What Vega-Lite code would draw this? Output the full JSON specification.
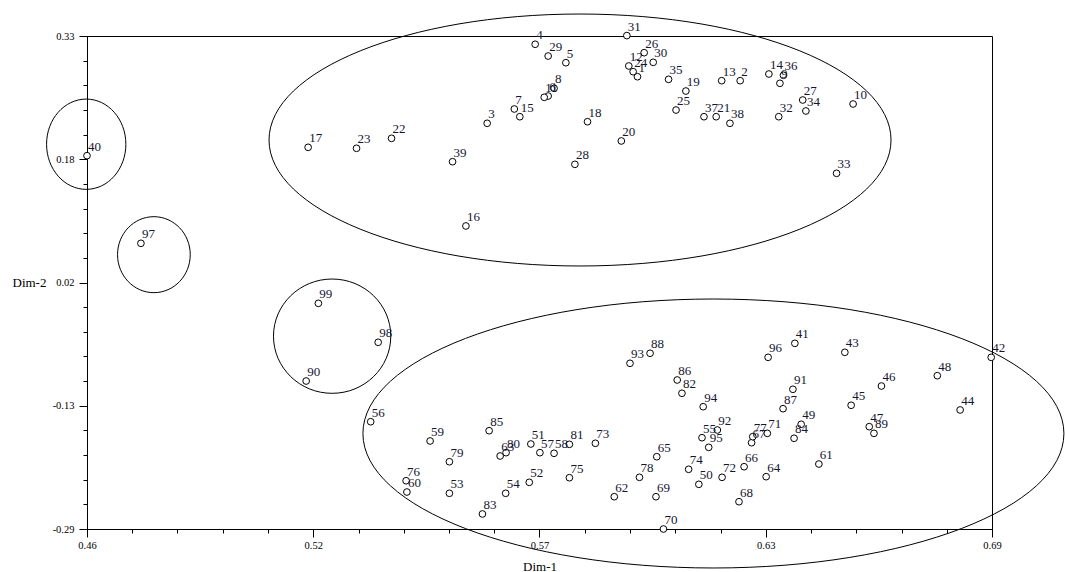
{
  "$schema": "https://vega.github.io/schema/vega-lite/v6.json",
  "width": 905,
  "height": 493,
  "autosize": "none",
  "padding": {"left": 87, "top": 36, "right": 73, "bottom": 43},
  "background": "white",
  "config": {
    "view": {"stroke": "black", "strokeWidth": 1},
    "axis": {"grid": false, "domainColor": "black", "tickColor": "black", "labelColor": "black", "titleColor": "black", "labelFont": "Liberation Serif", "titleFont": "Liberation Serif", "titleFontWeight": "normal", "labelFontSize": 10.5, "titleFontSize": 13, "tickWidth": 1, "domainWidth": 1}
  },
  "datasets": {
    "pts": [
      {"label": "1", "dim1": 0.5999, "dim2": 0.2788},
      {"label": "2", "dim1": 0.6260, "dim2": 0.2738},
      {"label": "3", "dim1": 0.5617, "dim2": 0.2202},
      {"label": "4", "dim1": 0.5739, "dim2": 0.3196},
      {"label": "5", "dim1": 0.5817, "dim2": 0.2964},
      {"label": "6", "dim1": 0.5772, "dim2": 0.2545},
      {"label": "7", "dim1": 0.5686, "dim2": 0.2382},
      {"label": "8", "dim1": 0.5787, "dim2": 0.2642},
      {"label": "9", "dim1": 0.6361, "dim2": 0.2705},
      {"label": "10", "dim1": 0.6547, "dim2": 0.2445},
      {"label": "11", "dim1": 0.5762, "dim2": 0.2529},
      {"label": "12", "dim1": 0.5977, "dim2": 0.2923},
      {"label": "13", "dim1": 0.6213, "dim2": 0.2738},
      {"label": "14", "dim1": 0.6333, "dim2": 0.2822},
      {"label": "15", "dim1": 0.5700, "dim2": 0.2285},
      {"label": "16", "dim1": 0.5563, "dim2": 0.0911},
      {"label": "17", "dim1": 0.5162, "dim2": 0.1900},
      {"label": "18", "dim1": 0.5872, "dim2": 0.2222},
      {"label": "19", "dim1": 0.6122, "dim2": 0.2608},
      {"label": "20", "dim1": 0.5958, "dim2": 0.1980},
      {"label": "21", "dim1": 0.6199, "dim2": 0.2285},
      {"label": "22", "dim1": 0.5374, "dim2": 0.2013},
      {"label": "23", "dim1": 0.5285, "dim2": 0.1888},
      {"label": "24", "dim1": 0.5988, "dim2": 0.2851},
      {"label": "25", "dim1": 0.6097, "dim2": 0.2369},
      {"label": "26", "dim1": 0.6016, "dim2": 0.3090},
      {"label": "27", "dim1": 0.6419, "dim2": 0.2495},
      {"label": "28", "dim1": 0.5840, "dim2": 0.1686},
      {"label": "29", "dim1": 0.5772, "dim2": 0.3048},
      {"label": "30", "dim1": 0.6039, "dim2": 0.2969},
      {"label": "31", "dim1": 0.5972, "dim2": 0.3305},
      {"label": "32", "dim1": 0.6358, "dim2": 0.2285},
      {"label": "33", "dim1": 0.6505, "dim2": 0.1573},
      {"label": "34", "dim1": 0.6427, "dim2": 0.2357},
      {"label": "35", "dim1": 0.6078, "dim2": 0.2755},
      {"label": "36", "dim1": 0.6370, "dim2": 0.2806},
      {"label": "37", "dim1": 0.6168, "dim2": 0.2285},
      {"label": "38", "dim1": 0.6234, "dim2": 0.2202},
      {"label": "39", "dim1": 0.5529, "dim2": 0.1719},
      {"label": "40", "dim1": 0.4600, "dim2": 0.1795},
      {"label": "41", "dim1": 0.6399, "dim2": -0.0565},
      {"label": "42", "dim1": 0.6898, "dim2": -0.0741},
      {"label": "43", "dim1": 0.6526, "dim2": -0.0678},
      {"label": "44", "dim1": 0.6819, "dim2": -0.1403},
      {"label": "45", "dim1": 0.6542, "dim2": -0.1344},
      {"label": "46", "dim1": 0.6619, "dim2": -0.1102},
      {"label": "47", "dim1": 0.6588, "dim2": -0.1613},
      {"label": "48", "dim1": 0.6761, "dim2": -0.0972},
      {"label": "49", "dim1": 0.6415, "dim2": -0.1583},
      {"label": "50", "dim1": 0.6155, "dim2": -0.2338},
      {"label": "51", "dim1": 0.5728, "dim2": -0.1831},
      {"label": "52", "dim1": 0.5724, "dim2": -0.2313},
      {"label": "53", "dim1": 0.5521, "dim2": -0.2451},
      {"label": "54", "dim1": 0.5664, "dim2": -0.2451},
      {"label": "55", "dim1": 0.6163, "dim2": -0.1752},
      {"label": "56", "dim1": 0.5321, "dim2": -0.1551},
      {"label": "57", "dim1": 0.5751, "dim2": -0.1940},
      {"label": "58", "dim1": 0.5787, "dim2": -0.1948},
      {"label": "59", "dim1": 0.5472, "dim2": -0.1793},
      {"label": "60", "dim1": 0.5413, "dim2": -0.2435},
      {"label": "61", "dim1": 0.6460, "dim2": -0.2083},
      {"label": "62", "dim1": 0.5940, "dim2": -0.2494},
      {"label": "63", "dim1": 0.5650, "dim2": -0.1982},
      {"label": "64", "dim1": 0.6326, "dim2": -0.2242},
      {"label": "65", "dim1": 0.6048, "dim2": -0.1991},
      {"label": "66", "dim1": 0.6270, "dim2": -0.2117},
      {"label": "67", "dim1": 0.6289, "dim2": -0.1815},
      {"label": "68", "dim1": 0.6257, "dim2": -0.2557},
      {"label": "69", "dim1": 0.6046, "dim2": -0.2494},
      {"label": "70", "dim1": 0.6065, "dim2": -0.2900},
      {"label": "71", "dim1": 0.6329, "dim2": -0.1697},
      {"label": "72", "dim1": 0.6214, "dim2": -0.2250},
      {"label": "73", "dim1": 0.5892, "dim2": -0.1822},
      {"label": "74", "dim1": 0.6129, "dim2": -0.2149},
      {"label": "75", "dim1": 0.5826, "dim2": -0.2255},
      {"label": "76", "dim1": 0.5411, "dim2": -0.2293},
      {"label": "77", "dim1": 0.6292, "dim2": -0.1739},
      {"label": "78", "dim1": 0.6004, "dim2": -0.2250},
      {"label": "79", "dim1": 0.5521, "dim2": -0.2054},
      {"label": "80", "dim1": 0.5665, "dim2": -0.1940},
      {"label": "81", "dim1": 0.5826, "dim2": -0.1835},
      {"label": "82", "dim1": 0.6112, "dim2": -0.1193},
      {"label": "83", "dim1": 0.5605, "dim2": -0.2711},
      {"label": "84", "dim1": 0.6397, "dim2": -0.1759},
      {"label": "85", "dim1": 0.5622, "dim2": -0.1664},
      {"label": "86", "dim1": 0.6100, "dim2": -0.1026},
      {"label": "87", "dim1": 0.6369, "dim2": -0.1387},
      {"label": "88", "dim1": 0.6031, "dim2": -0.0690},
      {"label": "89", "dim1": 0.6600, "dim2": -0.1697},
      {"label": "90", "dim1": 0.5157, "dim2": -0.1039},
      {"label": "91", "dim1": 0.6394, "dim2": -0.1143},
      {"label": "92", "dim1": 0.6202, "dim2": -0.1655},
      {"label": "93", "dim1": 0.5980, "dim2": -0.0816},
      {"label": "94", "dim1": 0.6166, "dim2": -0.1362},
      {"label": "95", "dim1": 0.6180, "dim2": -0.1873},
      {"label": "96", "dim1": 0.6331, "dim2": -0.0741},
      {"label": "97", "dim1": 0.4737, "dim2": 0.0693},
      {"label": "98", "dim1": 0.5340, "dim2": -0.0552},
      {"label": "99", "dim1": 0.5188, "dim2": -0.0062}
    ]
  },
  "resolve": {"axis": {"x": "independent", "y": "independent"}},
  "layer": [
    {
      "data": {"values": [{"group": "A", "dim1": 0.5853, "dim2": 0.1992}]},
      "mark": {"type": "point", "shape": "M -1 0 C -1 -0.2238 -0.5523 -0.4051 0 -0.4051 C 0.5523 -0.4051 1 -0.2238 1 0 C 1 0.2238 0.5523 0.4051 0 0.4051 C -0.5523 0.4051 -1 0.2238 -1 0 Z", "size": 386884, "filled": false, "stroke": "black", "strokeWidth": 1, "opacity": 1},
      "encoding": {
        "x": {"field": "dim1", "type": "quantitative", "axis": null, "scale": {"domain": [0.46, 0.69], "nice": false, "zero": false}},
        "y": {"field": "dim2", "type": "quantitative", "axis": null, "scale": {"domain": [-0.29, 0.33], "nice": false, "zero": false}}
      }
    },
    {
      "data": {"values": [{"group": "B", "dim1": 0.6192, "dim2": -0.1699}]},
      "mark": {"type": "point", "shape": "M -1 0 C -1 -0.2119 -0.5523 -0.3837 0 -0.3837 C 0.5523 -0.3837 1 -0.2119 1 0 C 1 0.2119 0.5523 0.3837 0 0.3837 C -0.5523 0.3837 -1 0.2119 -1 0 Z", "size": 491401, "filled": false, "stroke": "black", "strokeWidth": 1, "opacity": 1},
      "encoding": {
        "x": {"field": "dim1", "type": "quantitative", "axis": null},
        "y": {"field": "dim2", "type": "quantitative", "axis": null}
      }
    },
    {
      "data": {"values": [{"group": "C", "dim1": 0.4598, "dim2": 0.1939}]},
      "mark": {"type": "point", "shape": "M -1 0 C -1 -0.6289 -0.5523 -1.1387 0 -1.1387 C 0.5523 -1.1387 1 -0.6289 1 0 C 1 0.6289 0.5523 1.1387 0 1.1387 C -0.5523 1.1387 -1 0.6289 -1 0 Z", "size": 6288, "filled": false, "stroke": "black", "strokeWidth": 1, "opacity": 1},
      "encoding": {
        "x": {"field": "dim1", "type": "quantitative", "axis": null},
        "y": {"field": "dim2", "type": "quantitative", "axis": null}
      }
    },
    {
      "data": {"values": [{"group": "D", "dim1": 0.4770, "dim2": 0.0550}]},
      "mark": {"type": "point", "shape": "M -1 0 C -1 -0.5774 -0.5523 -1.0454 0 -1.0454 C 0.5523 -1.0454 1 -0.5774 1 0 C 1 0.5774 0.5523 1.0454 0 1.0454 C -0.5523 1.0454 -1 0.5774 -1 0 Z", "size": 5285, "filled": false, "stroke": "black", "strokeWidth": 1, "opacity": 1},
      "encoding": {
        "x": {"field": "dim1", "type": "quantitative", "axis": null},
        "y": {"field": "dim2", "type": "quantitative", "axis": null}
      }
    },
    {
      "data": {"values": [{"group": "E", "dim1": 0.5223, "dim2": -0.0475}]},
      "mark": {"type": "point", "shape": "M -1 0 C -1 -0.5382 -0.5523 -0.9744 0 -0.9744 C 0.5523 -0.9744 1 -0.5382 1 0 C 1 0.5382 0.5523 0.9744 0 0.9744 C -0.5523 0.9744 -1 0.5382 -1 0 Z", "size": 13759, "filled": false, "stroke": "black", "strokeWidth": 1, "opacity": 1},
      "encoding": {
        "x": {"field": "dim1", "type": "quantitative", "axis": null},
        "y": {"field": "dim2", "type": "quantitative", "axis": null}
      }
    },
    {
      "data": {"name": "pts"},
      "mark": {"type": "point", "shape": "circle", "size": 45, "filled": true, "fill": "white", "stroke": "black", "strokeWidth": 1, "opacity": 1},
      "encoding": {
        "x": {"field": "dim1", "type": "quantitative", "title": "Dim-1",
          "axis": {"orient": "bottom", "values": [0.46, 0.5175, 0.575, 0.6325, 0.69], "labelExpr": "datum.value < 0.5 ? '0.46' : datum.value < 0.55 ? '0.52' : datum.value < 0.6 ? '0.57' : datum.value < 0.66 ? '0.63' : '0.69'", "tickSize": 8, "labelPadding": 3, "labelFlush": false, "labelOverlap": false, "titleBaseline": "middle", "titleY": 37}},
        "y": {"field": "dim2", "type": "quantitative", "title": "Dim-2",
          "axis": {"orient": "left", "values": [0.33, 0.175, 0.02, -0.135, -0.29], "labelExpr": "datum.value > 0.3 ? '0.33' : datum.value > 0.1 ? '0.18' : datum.value > -0.05 ? '0.02' : datum.value > -0.2 ? '-0.13' : '-0.29'", "tickSize": 8, "labelPadding": 5, "labelFlush": false, "labelOverlap": false, "titleAngle": 0, "titleAlign": "left", "titleBaseline": "middle", "titleX": -75, "titleY": 246.5}}
      }
    },
    {
      "data": {"name": "pts"},
      "mark": {"type": "text", "align": "left", "baseline": "alphabetic", "dx": 1, "dy": -5, "font": "Liberation Serif", "fontSize": 13, "color": "#151530"},
      "encoding": {
        "x": {"field": "dim1", "type": "quantitative",
          "axis": {"orient": "bottom", "values": [0.46, 0.4715, 0.483, 0.4945, 0.506, 0.5175, 0.529, 0.5405, 0.552, 0.5635, 0.575, 0.5865, 0.598, 0.6095, 0.621, 0.6325, 0.644, 0.6555, 0.667, 0.6785, 0.69], "labels": false, "domain": false, "tickSize": 4, "title": null}},
        "y": {"field": "dim2", "type": "quantitative",
          "axis": {"orient": "left", "values": [0.33, 0.299, 0.268, 0.237, 0.206, 0.175, 0.144, 0.113, 0.082, 0.051, 0.02, -0.011, -0.042, -0.073, -0.104, -0.135, -0.166, -0.197, -0.228, -0.259, -0.29], "labels": false, "domain": false, "tickSize": 4, "title": null}},
        "text": {"field": "label", "type": "nominal"}
      }
    }
  ]
}
